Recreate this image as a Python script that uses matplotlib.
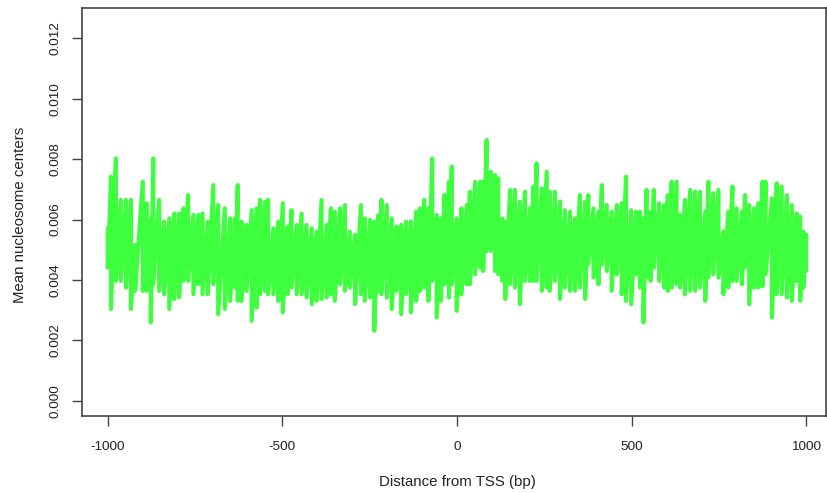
import numpy as np
import matplotlib
matplotlib.use("Agg")
import matplotlib.pyplot as plt

plt.rcParams['font.family'] = ['Liberation Sans', 'DejaVu Sans']

# distance from TSS (bp) and the upper / lower swing of the signal there,
# read off the picture (values in thousandths)
pos = [-1000, -991, -977, -963, -948, -934, -922, -900, -889, -877, -870, -853,
       -839, -824, -810, -796, -784, -770, -755, -741, -729, -714, -698, -684,
       -665, -650, -636, -628, -617, -603, -588, -574, -564, -550, -541, -526,
       -512, -499, -485, -474, -459, -445, -431, -416, -402, -388, -373, -361,
       -350, -335, -321, -307, -292, -275, -264, -249, -237, -225, -216, -201,
       -187, -173, -160, -146, -132, -117, -106, -94, -82, -71, -58, -46,
       -36, -23, -15, -1, 13, 28, 37, 52, 66, 75, 85, 97,
       109, 118, 130, 138, 152, 166, 180, 195, 209, 219, 228, 243,
       257, 266, 281, 295, 309, 324, 338, 352, 367, 376, 391, 405,
       415, 429, 443, 458, 472, 484, 499, 513, 524, 534, 543, 555,
       564, 579, 593, 604, 615, 629, 639, 653, 668, 682, 696, 711,
       720, 734, 749, 763, 777, 789, 801, 816, 825, 837, 851, 863,
       875, 884, 902, 916, 930, 945, 959, 973, 983, 992, 1000]
upper = [5.71, 7.42, 8.02, 6.65, 6.65, 6.65, 5.16, 7.25, 6.54, 6.04, 8.02, 6.65,
         5.93, 6.04, 6.20, 6.20, 6.37, 6.81, 6.15, 6.15, 6.20, 5.93, 7.14, 6.48,
         6.37, 6.04, 6.04, 7.14, 5.93, 5.82, 6.31, 6.37, 6.65, 6.59, 6.65, 5.71,
         5.93, 6.54, 5.77, 6.31, 5.82, 6.20, 5.82, 5.71, 5.60, 6.65, 5.82, 6.37,
         6.26, 6.37, 6.48, 5.60, 5.49, 6.48, 6.04, 5.99, 5.93, 6.15, 6.65, 6.48,
         6.04, 5.77, 5.82, 5.93, 5.93, 6.26, 6.37, 6.65, 6.37, 8.02, 6.15, 6.04,
         6.81, 7.25, 7.75, 6.04, 6.37, 6.48, 6.92, 7.25, 7.25, 7.25, 8.63, 7.58,
         7.47, 7.36, 6.04, 5.93, 6.98, 6.98, 6.59, 6.92, 6.37, 7.09, 7.86, 7.03,
         7.58, 6.92, 6.92, 6.59, 6.31, 6.26, 6.04, 6.81, 6.59, 6.81, 6.37, 6.26,
         7.14, 6.48, 6.26, 6.48, 6.54, 7.42, 6.31, 6.26, 6.26, 6.04, 6.98, 6.26,
         6.98, 6.54, 6.48, 6.81, 7.25, 7.25, 6.15, 6.65, 6.98, 6.92, 6.92, 6.26,
         7.25, 6.87, 6.98, 5.60, 6.26, 7.09, 6.37, 6.26, 6.81, 6.48, 6.37, 6.54,
         7.25, 7.25, 6.70, 7.20, 7.09, 6.81, 6.48, 6.20, 6.09, 5.60, 5.50]
lower = [4.41, 3.04, 3.97, 3.97, 3.75, 3.04, 3.64, 3.64, 3.64, 2.60, 3.86, 3.64,
         3.53, 3.04, 3.37, 3.42, 3.97, 3.97, 3.53, 3.86, 3.53, 3.53, 3.86, 2.87,
         3.04, 3.31, 3.75, 3.31, 3.31, 3.64, 2.65, 3.09, 3.53, 3.64, 3.53, 3.53,
         3.31, 2.93, 3.53, 3.75, 3.53, 3.53, 3.42, 3.20, 3.31, 3.37, 3.42, 3.53,
         3.31, 3.86, 3.64, 3.75, 3.20, 3.53, 3.31, 3.42, 2.32, 3.64, 3.53, 3.42,
         3.04, 3.64, 2.87, 3.53, 2.93, 3.31, 3.64, 3.75, 3.31, 3.97, 2.76, 3.31,
         3.86, 3.42, 3.86, 2.98, 3.53, 3.86, 3.86, 4.19, 4.41, 4.30, 4.96, 4.96,
         4.30, 4.19, 3.97, 3.37, 3.86, 3.75, 3.20, 3.97, 3.97, 3.97, 3.97, 3.64,
         3.75, 3.64, 3.97, 3.37, 3.75, 3.64, 3.64, 3.75, 3.37, 4.52, 4.08, 3.86,
         4.52, 4.30, 3.64, 4.19, 3.53, 3.31, 3.20, 4.19, 3.75, 2.60, 4.08, 3.97,
         4.41, 3.97, 3.75, 3.64, 3.75, 3.86, 3.75, 3.53, 3.64, 3.64, 3.75, 3.31,
         4.08, 4.19, 4.08, 3.53, 3.75, 3.97, 3.97, 3.86, 4.41, 3.20, 3.75, 3.75,
         3.80, 4.19, 2.76, 3.53, 3.53, 3.42, 3.31, 3.97, 3.31, 3.75, 4.30]

xticks = [-1000, -500, 0, 500, 1000]
yticks = [0.000, 0.002, 0.004, 0.006, 0.008, 0.010, 0.012]

x = np.repeat(pos, 2)
y = np.column_stack([upper, lower]).ravel() * 1e-3

fig = plt.figure(figsize=(8.27, 4.93), dpi=100)
ax = fig.add_axes([0.0992, 0.1562, 0.8996, 0.8276])

ax.plot(x, y, color='#3dff3d', lw=3.0, solid_joinstyle='round', solid_capstyle='round')

ax.set_xlim(-1074, 1057)
ax.set_ylim(-0.0005, 0.013)

ax.set_xticks(xticks)
ax.set_xticklabels([str(t) for t in xticks])
ax.set_yticks(yticks)
ax.set_yticklabels(['%.3f' % t for t in yticks], rotation=90, va='center')

for s in ax.spines.values():
    s.set_color('#444444')
    s.set_linewidth(1.2)

ax.tick_params(axis='both', direction='out', length=7, width=1.0,
               color='#444444', labelcolor='#222222', labelsize=9.7)
ax.tick_params(axis='x', pad=11)
ax.tick_params(axis='y', pad=8)

fig.text(457 / 827, 1 - 482 / 493, 'Distance from TSS (bp)', ha='center', va='center',
         fontsize=10.8, color='#222222')
fig.text(20 / 827, 1 - 215 / 493, 'Mean nucleosome centers', ha='center', va='center',
         rotation=90, fontsize=10.8, color='#222222')

fig.savefig('out.png', dpi=100)
